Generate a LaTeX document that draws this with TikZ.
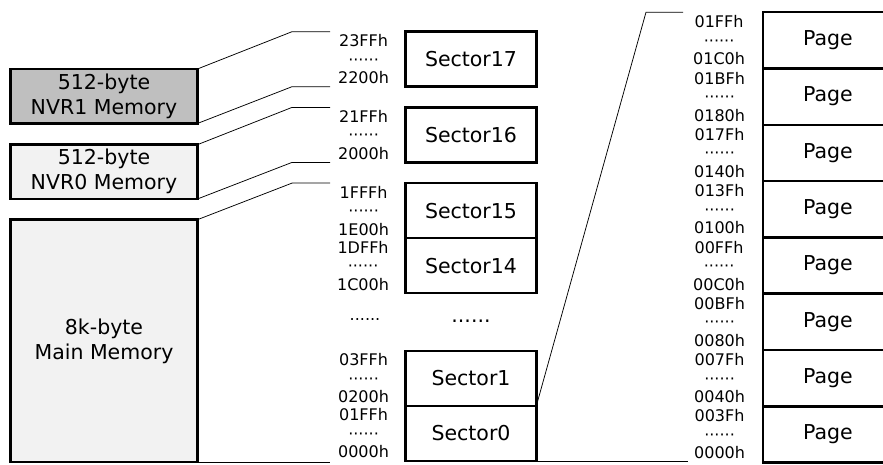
\documentclass[tikz,border=0pt]{standalone}
\usepackage{fontspec}
\setmainfont{DejaVu Sans}
\usetikzlibrary{positioning}

\begin{document}
\begin{tikzpicture}
  [x=1pt,y=-1pt,
   memory/.style={rectangle,draw=black,line width=2.5pt,outer sep=0pt,minimum width=187pt,align=center,font=\fontsize{20.5}{25}\selectfont},
   sector/.style={rectangle,draw=black,line width=2.5pt,outer sep=0pt,minimum width=130.6pt,minimum height=55pt,font=\fontsize{20.5}{25}\selectfont},
   page/.style={rectangle,draw=black,line width=2.5pt,outer sep=0pt,minimum width=130pt,minimum height=56.3pt,font=\fontsize{20.5}{25}\selectfont},
   addr/.style={inner sep=0pt,outer sep=0pt,align=center,font=\fontsize{16}{18.5}\selectfont},
   link/.style={draw=black,line width=0.75pt}]
  \clip (0,0) rectangle (883,464);
  \node[memory,fill=black!25,minimum height=54.5pt] (nvr1) at (104,96.2) {512-byte\\NVR1 Memory};
  \node[memory,fill=black!5,minimum height=54.3pt] (nvr0) [below=21.2pt of nvr1] {512-byte\\NVR0 Memory};
  \node[memory,fill=black!5,minimum height=242.4pt] (main) [below=20.7pt of nvr0] {8k-byte\\Main Memory};
  \node[sector] (s17) at (471,59.2) {Sector17};
  \node[sector] (s16) [below=20.7pt of s17] {Sector16};
  \node[sector] (s15) [below=20.7pt of s16] {Sector15};
  \node[sector] (s14) [below=0pt of s15] {Sector14};
  \node (sdots) at (471,321.5) [font=\fontsize{20.5}{25}\selectfont] {......};
  \node[sector] (s1) at (471,378.5) {Sector1};
  \node[sector] (s0) [below=0pt of s1] {Sector0};
  \node[addr] (a17) [left=16.7pt of s17] {23FFh\\······\\2200h};
  \node[addr] (a16) [left=16.7pt of s16] {21FFh\\······\\2000h};
  \node[addr] (a15) [left=16.7pt of s15] {1FFFh\\······\\1E00h};
  \node[addr] (a14) [left=16.7pt of s14] {1DFFh\\······\\1C00h};
  \node[addr] (adots) at (365,320) {......};
  \node[addr] (a1) [left=16.7pt of s1] {03FFh\\······\\0200h};
  \node[addr] (a0) [left=16.7pt of s0] {01FFh\\······\\0000h};
  \node[page] (pg7) at (828,40.35) {Page};
  \node[page] (pg6) [below=0pt of pg7] {Page};
  \node[page] (pg5) [below=0pt of pg6] {Page};
  \node[page] (pg4) [below=0pt of pg5] {Page};
  \node[page] (pg3) [below=0pt of pg4] {Page};
  \node[page] (pg2) [below=0pt of pg3] {Page};
  \node[page] (pg1) [below=0pt of pg2] {Page};
  \node[page] (pg0) [below=0pt of pg1] {Page};
  \node[addr] (b7) [left=18pt of pg7] {01FFh\\······\\01C0h};
  \node[addr] (b6) [left=18pt of pg6] {01BFh\\······\\0180h};
  \node[addr] (b5) [left=18pt of pg5] {017Fh\\······\\0140h};
  \node[addr] (b4) [left=18pt of pg4] {013Fh\\······\\0100h};
  \node[addr] (b3) [left=18pt of pg3] {00FFh\\······\\00C0h};
  \node[addr] (b2) [left=18pt of pg2] {00BFh\\······\\0080h};
  \node[addr] (b1) [left=18pt of pg1] {007Fh\\······\\0040h};
  \node[addr] (b0) [left=18pt of pg0] {003Fh\\······\\0000h};
  \coordinate (bend) at (292,0);
  \coordinate (stop) at (330,0);
  \coordinate (turn) at (646,0);
  \coordinate (tip) at (683,0);
  \coordinate (tail) at (688,0);
  \draw[link] (nvr1.north east) -- (bend |- s17.north) -- (stop |- s17.north);
  \draw[link] (nvr1.south east) -- (bend |- s17.south) -- (stop |- s17.south);
  \draw[link] (nvr0.north east) -- (bend |- s16.north) -- (stop |- s16.north);
  \draw[link] (nvr0.south east) -- (bend |- s16.south) -- (stop |- s16.south);
  \draw[link] (main.north east) -- (bend |- s15.north) -- (stop |- s15.north);
  \draw[link] (main.south east) -- (stop |- main.south);
  \draw[link] (s0.north east) -- (turn |- pg7.north) -- (tip |- pg7.north);
  \draw[link] (s0.south east) -- (tail |- s0.south);
\end{tikzpicture}
\end{document}
